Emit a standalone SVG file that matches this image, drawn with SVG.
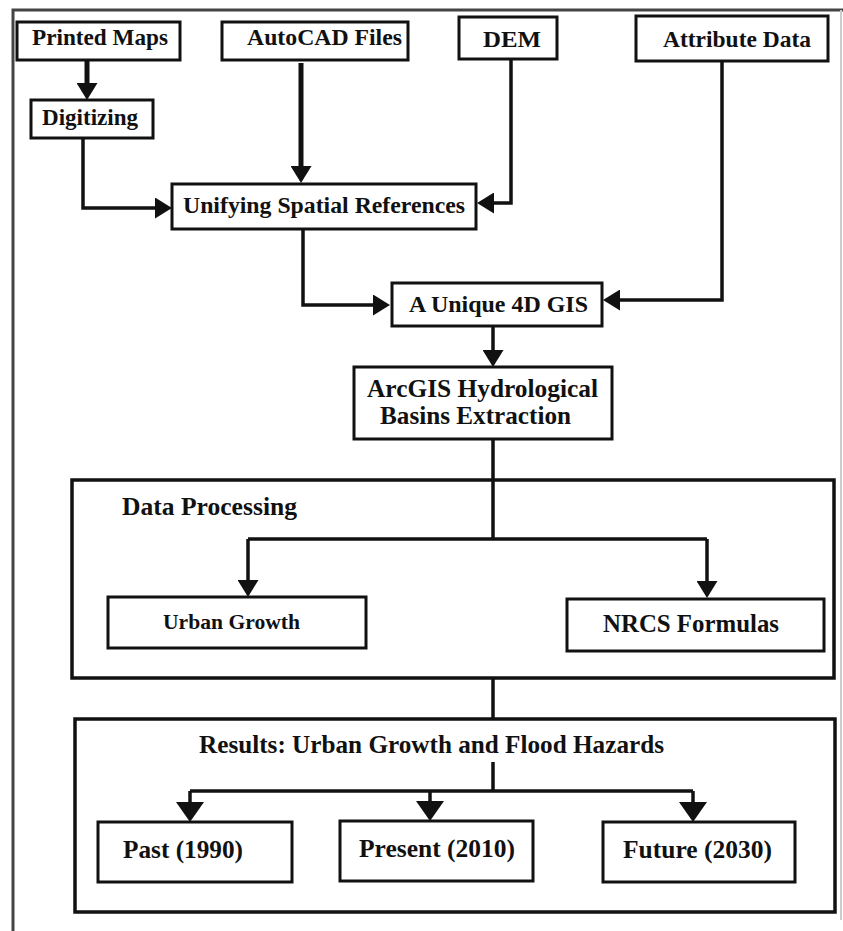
<svg xmlns="http://www.w3.org/2000/svg" width="843" height="931" viewBox="0 0 843 931">
<style>
.box{fill:#fff;stroke:#111;stroke-width:3}
.ln{fill:none;stroke:#111;stroke-width:3.5}
.thick{stroke-width:5}
.t{font-family:"Liberation Serif","Times New Roman",serif;font-weight:bold;fill:#111;lengthAdjust:spacingAndGlyphs}
</style>
<defs>
<marker id="a" markerUnits="userSpaceOnUse" viewBox="0 0 17 21" markerWidth="17" markerHeight="21" refX="2" refY="10.5" orient="auto"><path d="M0,0 L17,10.5 L0,21 Z" fill="#111"/></marker>
<marker id="b" markerUnits="userSpaceOnUse" viewBox="0 0 20 28" markerWidth="20" markerHeight="28" refX="2" refY="14" orient="auto"><path d="M0,0 L20,14 L0,28 Z" fill="#111"/></marker>
</defs>
<rect width="843" height="931" fill="#fff"/>
<path d="M13,931 V10 H843" fill="none" stroke="#444" stroke-width="3"/>
<path d="M841,10 V920" fill="none" stroke="#ccc" stroke-width="2"/>
<g id="connectors">
<path class="ln thick" d="M87,60 V85" marker-end="url(#a)"/>
<path class="ln thick" d="M301,63 V168" marker-end="url(#a)"/>
<path class="ln" d="M83,138 V208 H157" marker-end="url(#a)"/>
<path class="ln" d="M511,59 V203 H492" marker-end="url(#a)"/>
<path class="ln" d="M722,61 V300 H618" marker-end="url(#a)"/>
<path class="ln" d="M303,229 V305 H375" marker-end="url(#a)"/>
<path class="ln" d="M493,326 V352" marker-end="url(#a)"/>
<path class="ln" d="M493,439 V539"/>
<path class="ln" d="M248,539 H707"/>
<path class="ln" d="M248,539 V582" marker-end="url(#a)"/>
<path class="ln" d="M707,539 V583" marker-end="url(#a)"/>
<path class="ln" d="M493,678 V719"/>
<path class="ln" d="M493,762 V791"/>
<path class="ln" d="M190,791 H693"/>
<path class="ln" d="M190,791 V804" marker-end="url(#b)"/>
<path class="ln" d="M430,791 V803" marker-end="url(#b)"/>
<path class="ln" d="M693,791 V804" marker-end="url(#b)"/>
</g>
<g id="printed-maps"><rect class="box" x="17" y="22" width="163" height="38"/><text class="t" x="32" y="45" font-size="23" textLength="136" lengthAdjust="spacingAndGlyphs">Printed Maps</text></g>
<g id="autocad-files"><rect class="box" x="222" y="22" width="186" height="38"/><text class="t" x="247" y="45" font-size="24" textLength="155" lengthAdjust="spacingAndGlyphs">AutoCAD Files</text></g>
<g id="dem"><rect class="box" x="459" y="17" width="98" height="42"/><text class="t" x="483" y="47" font-size="24" textLength="58" lengthAdjust="spacingAndGlyphs">DEM</text></g>
<g id="attribute-data"><rect class="box" x="636" y="16" width="192" height="45"/><text class="t" x="663" y="47" font-size="24" textLength="148" lengthAdjust="spacingAndGlyphs">Attribute Data</text></g>
<g id="digitizing"><rect class="box" x="31" y="100" width="122" height="38"/><text class="t" x="42" y="125" font-size="23" textLength="96" lengthAdjust="spacingAndGlyphs">Digitizing</text></g>
<g id="unifying"><rect class="box" x="172" y="184" width="304" height="45"/><text class="t" x="183" y="213" font-size="24" textLength="282" lengthAdjust="spacingAndGlyphs">Unifying Spatial References</text></g>
<g id="unique-gis"><rect class="box" x="392" y="283" width="210" height="43"/><text class="t" x="409" y="312" font-size="24" textLength="179" lengthAdjust="spacingAndGlyphs">A Unique 4D GIS</text></g>
<g id="arcgis"><rect class="box" x="354" y="367" width="258" height="72"/><text class="t" x="367" y="397" font-size="25" textLength="231" lengthAdjust="spacingAndGlyphs">ArcGIS Hydrological</text><text class="t" x="380" y="424" font-size="25" textLength="191" lengthAdjust="spacingAndGlyphs">Basins Extraction</text></g>
<g id="data-processing"><rect x="72" y="480" width="762" height="198" fill="none" stroke="#111" stroke-width="3.5"/><text class="t" x="122" y="515" font-size="26" textLength="175" lengthAdjust="spacingAndGlyphs">Data Processing</text></g>
<g id="urban-growth"><rect class="box" x="108" y="597" width="258" height="51"/><text class="t" x="163" y="629" font-size="21" textLength="137" lengthAdjust="spacingAndGlyphs">Urban Growth</text></g>
<g id="nrcs"><rect class="box" x="567" y="599" width="257" height="52"/><text class="t" x="603" y="632" font-size="25" textLength="176" lengthAdjust="spacingAndGlyphs">NRCS Formulas</text></g>
<g id="results"><rect x="75" y="719" width="760" height="193" fill="none" stroke="#111" stroke-width="3.5"/><text class="t" x="199" y="753" font-size="25" textLength="465" lengthAdjust="spacingAndGlyphs">Results: Urban Growth and Flood Hazards</text></g>
<g id="past"><rect class="box" x="98" y="822" width="194" height="60"/><text class="t" x="123" y="858" font-size="25" textLength="120" lengthAdjust="spacingAndGlyphs">Past (1990)</text></g>
<g id="present"><rect class="box" x="340" y="821" width="193" height="60"/><text class="t" x="359" y="857" font-size="25" textLength="156" lengthAdjust="spacingAndGlyphs">Present (2010)</text></g>
<g id="future"><rect class="box" x="603" y="822" width="192" height="60"/><text class="t" x="623" y="858" font-size="25" textLength="149" lengthAdjust="spacingAndGlyphs">Future (2030)</text></g>
</svg>
